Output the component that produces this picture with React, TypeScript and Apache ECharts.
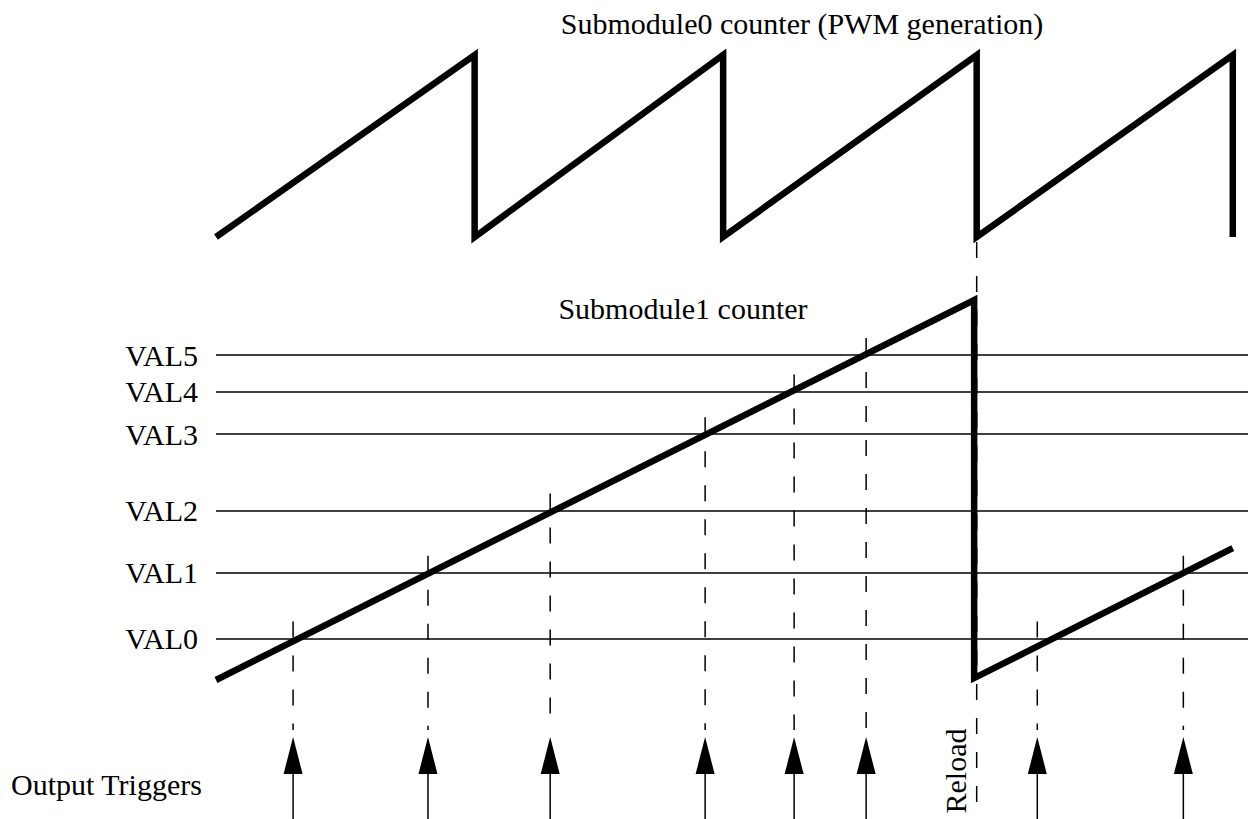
import React, { useEffect, useRef } from "react";
import * as echarts from "echarts";

// ---- data ----
// Submodule0 (PWM) counter: reset instants, counter rises 0 -> 100 in each period
const pwmResetTimes = [0, 102, 200, 300, 401];
const pwmMin = 0;
const pwmMax = 100;

// Submodule1 counter polyline
const sub1Times = [0, 299, 299, 401];
const sub1Values = [0, 1000, 5, 347];

// compare values
const valNames = ["VAL0", "VAL1", "VAL2", "VAL3", "VAL4", "VAL5"];
const valLevels = [109, 282, 446, 647, 759, 855];

// output triggers (time, index of VAL reached)
const triggerTimes = [30.4, 83.6, 131.8, 192.9, 228, 256.4, 323.9, 381.5];
const triggerLevelIdx = [0, 1, 2, 3, 4, 5, 0, 1];

// reload instant
const reloadTimes = [300];

const titles = {
  top: "Submodule0 counter (PWM generation)",
  bottom: "Submodule1 counter",
  triggers: "Output Triggers",
  reload: "Reload",
};

const FONT = '"Liberation Serif", "Times New Roman", Times, serif';

export default function App() {
  const ref = useRef<HTMLDivElement>(null);

  useEffect(() => {
    document.body.style.margin = "0";
    if (!ref.current) return;
    const chart = echarts.init(ref.current, undefined, { renderer: "svg" });

    const pwmData: number[][] = [];
    for (let i = 0; i < pwmResetTimes.length; i++) {
      if (i > 0) pwmData.push([pwmResetTimes[i], pwmMax]);
      pwmData.push([pwmResetTimes[i], pwmMin]);
    }
    const sub1Data = sub1Times.map((t, i) => [t, sub1Values[i]]);
    const trigData = triggerTimes.map((t, i) => [t, valLevels[triggerLevelIdx[i]]]);

    const option: any = {
      animation: false,
      backgroundColor: "#fff",
      grid: [
        { left: 216, top: 55, width: 1032, height: 182 },
        { left: 216, top: 300, width: 1032, height: 380 },
      ],
      xAxis: [
        { type: "value", gridIndex: 0, min: 0, max: 407, show: false },
        { type: "value", gridIndex: 1, min: 0, max: 407, show: false },
      ],
      yAxis: [
        { type: "value", gridIndex: 0, min: 0, max: 100, show: false },
        { type: "value", gridIndex: 1, min: 0, max: 1000, show: false },
      ],
      graphic: [
        {
          type: "text",
          x: 802,
          y: 23,
          style: { text: titles.top, font: `30px ${FONT}`, fill: "#000", align: "center", verticalAlign: "middle" },
        },
        {
          type: "text",
          x: 683,
          y: 308,
          style: { text: titles.bottom, font: `30px ${FONT}`, fill: "#000", align: "center", verticalAlign: "middle" },
        },
        {
          type: "text",
          x: 11,
          y: 784,
          style: { text: titles.triggers, font: `30px ${FONT}`, fill: "#000", align: "left", verticalAlign: "middle" },
        },
      ],
      series: [
        {
          type: "line",
          xAxisIndex: 0,
          yAxisIndex: 0,
          data: pwmData,
          symbol: "none",
          clip: false,
          z: 3,
          lineStyle: { color: "#000", width: 6.5, join: "miter", cap: "butt", miterLimit: 20 },
          silent: true,
        },
        {
          type: "line",
          xAxisIndex: 1,
          yAxisIndex: 1,
          data: [],
          symbol: "none",
          z: 1,
          markLine: {
            silent: true,
            symbol: ["none", "none"],
            animation: false,
            lineStyle: { color: "#000", width: 1.5, type: "solid" },
            label: {
              show: true,
              position: "start",
              distance: 18,
              formatter: "{b}",
              fontFamily: FONT,
              fontSize: 30,
              color: "#000",
            },
            emphasis: { disabled: true },
            data: valNames.map((n, i) => ({ name: n, yAxis: valLevels[i] })),
          },
        },
        {
          type: "custom",
          xAxisIndex: 1,
          yAxisIndex: 1,
          clip: false,
          silent: true,
          z: 2,
          data: trigData,
          renderItem: (params: any, api: any) => {
            const cs = params.coordSys;
            const p = api.coord([api.value(0), api.value(1)]);
            const x = p[0];
            const bottom = cs.y + cs.height;
            const tip = bottom + 57;
            const base = bottom + 94;
            return {
              type: "group",
              children: [
                {
                  type: "line",
                  shape: { x1: x, y1: p[1] - 17, x2: x, y2: bottom + 50 },
                  style: { stroke: "#000", lineWidth: 1.5, lineDash: [16, 18] },
                },
                {
                  type: "polygon",
                  shape: { points: [[x, tip], [x - 9.5, base], [x + 9.5, base]] },
                  style: { fill: "#000" },
                },
                {
                  type: "line",
                  shape: { x1: x, y1: base - 1, x2: x, y2: bottom + 140 },
                  style: { stroke: "#000", lineWidth: 1.5 },
                },
              ],
            };
          },
        },
        {
          type: "custom",
          xAxisIndex: 1,
          yAxisIndex: 1,
          clip: false,
          silent: true,
          z: 2,
          data: reloadTimes.map((t) => [t, 0]),
          renderItem: (params: any, api: any) => {
            const cs = params.coordSys;
            const p = api.coord([api.value(0), 0]);
            const x = p[0];
            const bottom = cs.y + cs.height;
            return {
              type: "group",
              children: [
                {
                  type: "line",
                  shape: { x1: x, y1: cs.y - 58, x2: x, y2: bottom + 123 },
                  style: { stroke: "#000", lineWidth: 1.5, lineDash: [16, 18] },
                },
                {
                  type: "text",
                  x: x - 21,
                  y: bottom + 91,
                  rotation: Math.PI / 2,
                  style: {
                    text: titles.reload,
                    font: `30px ${FONT}`,
                    fill: "#000",
                    align: "center",
                    verticalAlign: "middle",
                  },
                },
              ],
            };
          },
        },
        {
          type: "line",
          xAxisIndex: 1,
          yAxisIndex: 1,
          data: sub1Data,
          symbol: "none",
          clip: false,
          z: 4,
          lineStyle: { color: "#000", width: 6.5, join: "miter", cap: "butt", miterLimit: 20 },
          silent: true,
        },
      ],
    };

    chart.setOption(option);
    return () => chart.dispose();
  }, []);

  return <div ref={ref} style={{ width: 1248, height: 819 }} />;
}
